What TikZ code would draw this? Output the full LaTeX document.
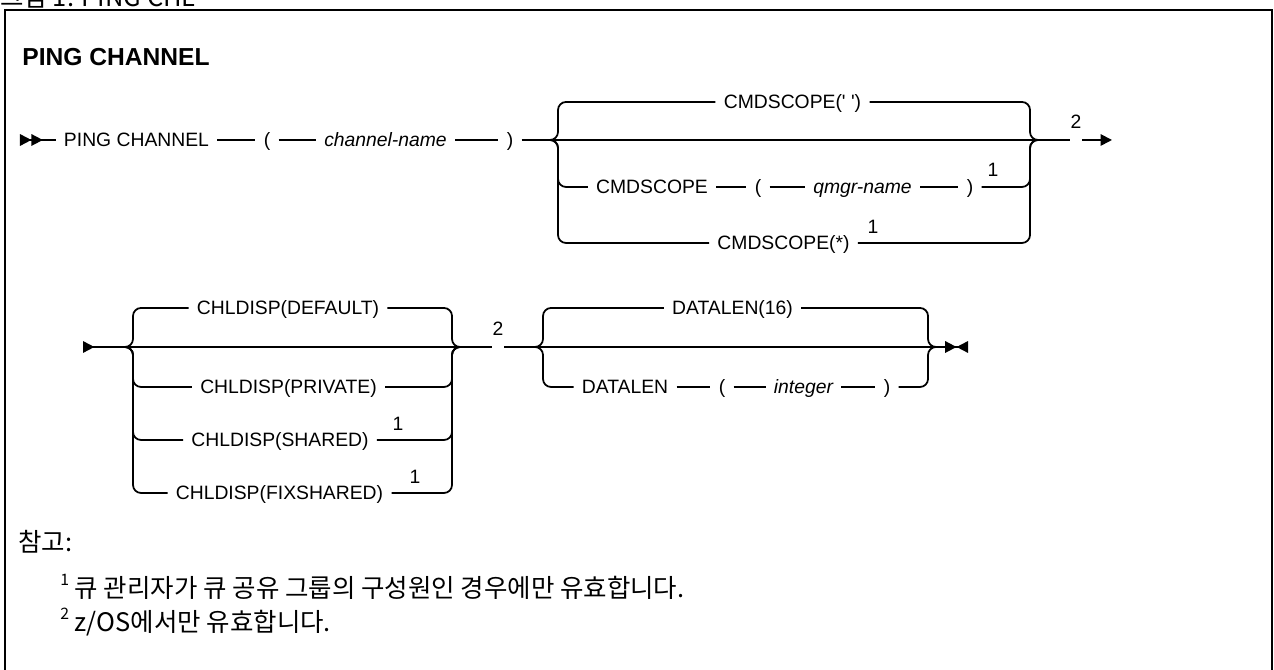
\documentclass[tikz,border=0pt]{standalone}
\usepackage{fontspec}
\setmainfont{Liberation Sans}
\newfontfamily\krfont{Noto Sans CJK KR}
\usetikzlibrary{arrows.meta,positioning,calc}
\tikzset{
  rail/.style={line width=1pt,draw=black},
  railbr/.style={rail,rounded corners=1.6mm},
  kw/.style={inner xsep=1.6mm,inner ysep=0pt,text height=9.9pt,text depth=2pt,
             font=\fontsize{11}{13}\selectfont},
  ital/.style={kw,font=\fontsize{11}{13}\selectfont\itshape},
  fnote/.style={inner sep=0pt,font=\fontsize{11}{13}\selectfont},
  fngap/.style={inner sep=0pt,minimum width=2.3mm,minimum height=0pt},
  title/.style={anchor=west,inner sep=0pt,font=\fontsize{14}{17}\selectfont\bfseries},
  note/.style={anchor=west,inner sep=0pt,font=\krfont\fontsize{14.5}{17}\selectfont}
}
\newcommand{\fnref}[1]{\raisebox{0.45em}{\fontsize{9}{10}\selectfont #1}}
\begin{document}
\begin{tikzpicture}
  \clip (0,0) rectangle (25.48,13.4);
  \node[note,anchor=base west] (cap) at (0,13.26) {그림 1. PING CHL};
  \draw[line width=1.4pt] (0.10,-0.5) |- (25.44,13.2) -- (25.44,-0.5);
  \node[title] (head) at (0.44,12.26) {PING CHANNEL};

  % Row 1: command, channel name, scope choice.
  \coordinate (r1s) at (0.40,10.6);
  \node[kw] (ping) at (2.73,10.6) {PING CHANNEL};
  \node[kw] (lp1) at (5.34,10.6) {(};
  \node[ital] (chname) at (7.71,10.6) {channel-name};
  \node[kw] (rp1) at (10.20,10.6) {)};
  \draw[rail,{Triangle[reversed,length=6.5pt,width=6.5pt]Triangle[reversed,length=6.5pt,width=6.5pt]}-]
    (r1s) -- (ping);
  \draw[rail] (ping) -- (lp1);
  \draw[rail] (lp1) -- (chname);
  \draw[rail] (chname) -- (rp1);

  \coordinate (c1l) at (11.16,10.6);
  \coordinate (c1r) at (20.60,10.6);
  \node[kw] (cs1) at (15.85,11.36) {CMDSCOPE(\textquotesingle\ \textquotesingle)};
  \node[kw] (cs2) at (13.04,9.66) {CMDSCOPE};
  \node[kw] (lp2) at (15.16,9.66) {(};
  \node[ital] (qmgr) at (17.25,9.66) {qmgr-name};
  \node[kw] (rp2) at (19.40,9.66) {)};
  \node[fnote] (fq) at (19.86,10.0) {1};
  \node[kw] (cs3) at (15.67,8.54) {CMDSCOPE(*)};
  \node[fnote] (fs) at (17.46,8.86) {1};
  \node[fngap] (r1g) at (21.52,10.6) {};
  \node[fnote] (r1n) at (21.52,10.96) {2};
  \coordinate (r1e) at (22.24,10.6);

  \draw[rail] (rp1) -- (r1g);
  \draw[rail,-{Triangle[length=6.5pt,width=6.5pt]}] (r1g) -- (r1e);
  \draw[railbr] ([xshift=-1.6mm]c1l) -| (c1l |- cs1) -- (cs1);
  \draw[railbr] (cs1) -- (c1r |- cs1) |- ([xshift=1.6mm]c1r);
  \draw[railbr] ([xshift=-1.6mm]c1l) -| (c1l |- cs2) -- (cs2);
  \draw[rail] (cs2) -- (lp2);
  \draw[rail] (lp2) -- (qmgr);
  \draw[rail] (qmgr) -- (rp2);
  \draw[railbr] (rp2) -- (c1r |- rp2) |- ([xshift=1.6mm]c1r);
  \draw[railbr] ([xshift=-1.6mm]c1l) -| (c1l |- cs3) -- (cs3);
  \draw[railbr] (cs3) -- (c1r |- cs3) |- ([xshift=1.6mm]c1r);

  % Row 2: disposition and data length choices.
  \coordinate (r2s) at (1.66,6.46);
  \coordinate (c2l) at (2.66,6.46);
  \coordinate (c2r) at (9.04,6.46);
  \node[kw] (cd1) at (5.76,7.24) {CHLDISP(DEFAULT)};
  \node[kw] (cd2) at (5.77,5.66) {CHLDISP(PRIVATE)};
  \node[kw] (cd3) at (5.60,4.60) {CHLDISP(SHARED)};
  \node[fnote] (fsh) at (7.96,4.92) {1};
  \node[kw] (cd4) at (5.59,3.54) {CHLDISP(FIXSHARED)};
  \node[fnote] (ffx) at (8.30,3.86) {1};
  \node[fngap] (r2g) at (9.96,6.46) {};
  \node[fnote] (r2n) at (9.96,6.82) {2};

  \coordinate (c3l) at (10.86,6.46);
  \coordinate (c3r) at (18.56,6.46);
  \node[kw] (dl1) at (14.65,7.24) {DATALEN(16)};
  \node[kw] (dl2) at (12.50,5.66) {DATALEN};
  \node[kw] (lp3) at (14.44,5.66) {(};
  \node[ital] (intg) at (16.07,5.66) {integer};
  \node[kw] (rp3) at (17.74,5.66) {)};
  \coordinate (r2e) at (19.36,6.46);

  \draw[rail,{Triangle[reversed,length=6.5pt,width=6.5pt]}-] (r2s) -- (r2g);
  \draw[rail,-{Triangle[length=6.5pt,width=6.5pt]Triangle[reversed,length=6.5pt,width=6.5pt]}]
    (r2g) -- (r2e);
  \draw[railbr] ([xshift=-1.6mm]c2l) -| (c2l |- cd1) -- (cd1);
  \draw[railbr] (cd1) -- (c2r |- cd1) |- ([xshift=1.6mm]c2r);
  \draw[railbr] ([xshift=-1.6mm]c2l) -| (c2l |- cd2) -- (cd2);
  \draw[railbr] (cd2) -- (c2r |- cd2) |- ([xshift=1.6mm]c2r);
  \draw[railbr] ([xshift=-1.6mm]c2l) -| (c2l |- cd3) -- (cd3);
  \draw[railbr] (cd3) -- (c2r |- cd3) |- ([xshift=1.6mm]c2r);
  \draw[railbr] ([xshift=-1.6mm]c2l) -| (c2l |- cd4) -- (cd4);
  \draw[railbr] (cd4) -- (c2r |- cd4) |- ([xshift=1.6mm]c2r);

  \draw[railbr] ([xshift=-1.6mm]c3l) -| (c3l |- dl1) -- (dl1);
  \draw[railbr] (dl1) -- (c3r |- dl1) |- ([xshift=1.6mm]c3r);
  \draw[railbr] ([xshift=-1.6mm]c3l) -| (c3l |- dl2) -- (dl2);
  \draw[rail] (dl2) -- (lp3);
  \draw[rail] (lp3) -- (intg);
  \draw[rail] (intg) -- (rp3);
  \draw[railbr] (rp3) -- (c3r |- rp3) |- ([xshift=1.6mm]c3r);

  % Notes.
  \node[note] (ref) at (0.36,2.56) {참고:};
  \node[note] (n1) at (1.20,1.66) {\fnref{1} 큐 관리자가 큐 공유 그룹의 구성원인 경우에만 유효합니다.};
  \node[note] (n2) at (1.20,0.96) {\fnref{2} z/OS에서만 유효합니다.};
\end{tikzpicture}
\end{document}
